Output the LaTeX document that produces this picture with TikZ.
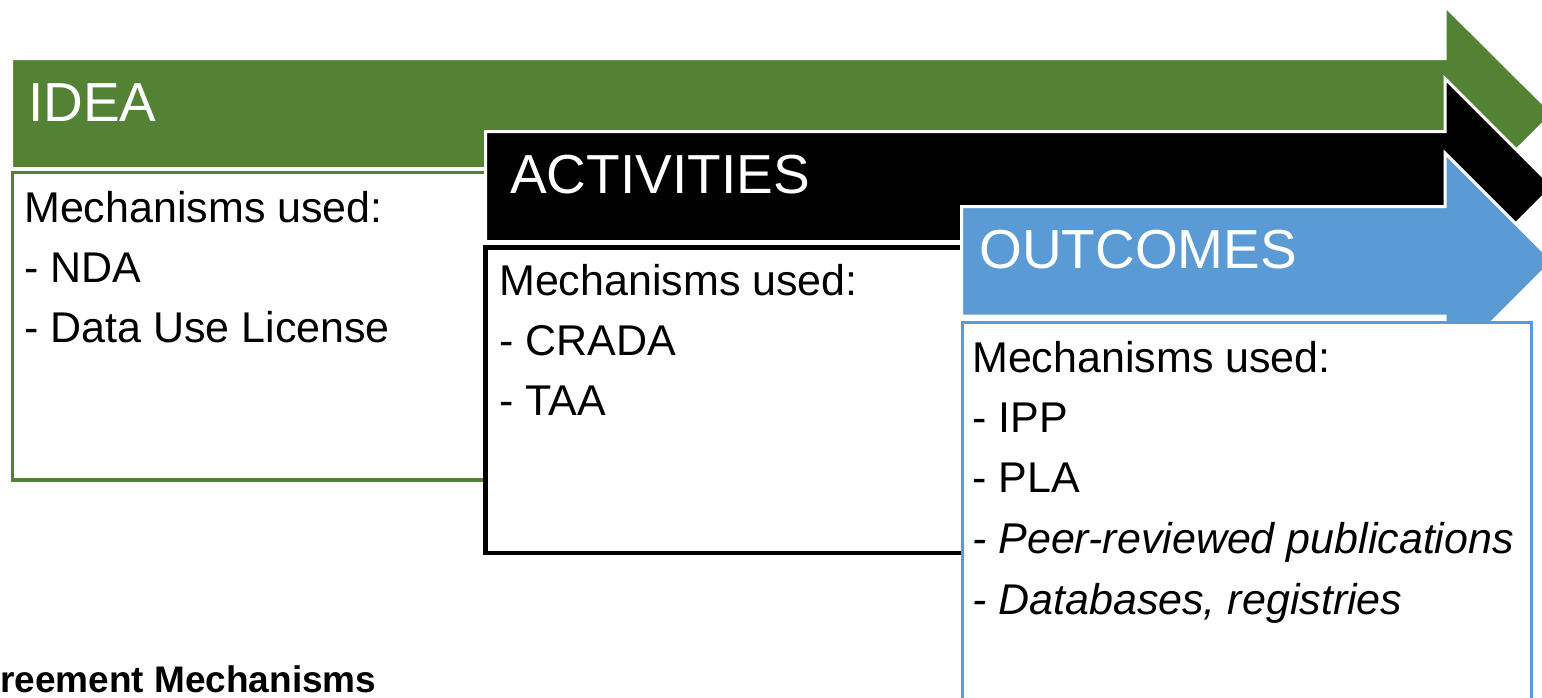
\documentclass[tikz,border=0pt]{standalone}
\usepackage{fontspec}
\setmainfont{Liberation Sans}
\usetikzlibrary{positioning}

\definecolor{ideagreen}{HTML}{548235}
\definecolor{outblue}{HTML}{5B9BD5}

\begin{document}
\begin{tikzpicture}[x=1pt, y=-1pt,
  head/.style={anchor=base west, inner sep=0pt, text=white,
               font=\fontsize{55}{60}\selectfont},
  mech/.style={anchor=base west, inner sep=0pt, text=black,
               font=\fontsize{43}{50}\selectfont},
  mechit/.style={mech, font=\fontsize{43}{50}\selectfont\itshape},
  band/.style={draw=white, line width=3pt, line join=miter},
  stagebox/.style={line width=3.5pt},
  caption/.style={anchor=base west, inner sep=0pt,
                  font=\fontsize{37}{40}\selectfont\bfseries},
]

  \useasboundingbox (0,0) rectangle (1542,697);

  \def\nx{1445}   % neck of every arrow head
  \def\tx{1553}   % tip of every arrow head
  \def\ga{24}     % text column, idea
  \def\gb{499}    % text column, activities
  \def\gc{972}    % text column, outcomes

  % Stage 1 — Idea

  \filldraw[fill=ideagreen, band]
    (11.5,58.5) -- (\nx,58.5) -- (\nx,6) -- (\tx,113.5)
    -- (\nx,221) -- (\nx,168.5) -- (11.5,168.5) -- cycle;
  % open on the right, the next stage hides that side
  \draw[stagebox, draw=ideagreen]
    (486,172.5) -- (12.5,172.5) -- (12.5,480) -- (486,480);

  \node[head] (ideatitle) at (28,121) {IDEA};
  \node[mech] (idea1) at (\ga,222) {Mechanisms used:};
  \node[mech] (idea2) at (\ga,282) {- NDA};
  \node[mech] (idea3) at (\ga,342) {- Data Use License};

  % Stage 2 — Activities

  \filldraw[fill=black, band]
    (485.5,131.5) -- (\nx,131.5) -- (\nx,78.5) -- (\tx,186.5)
    -- (\nx,294.5) -- (\nx,241.5) -- (485.5,241.5) -- cycle;
  \fill[white] (485.5,245) rectangle (962,553);
  \draw[stagebox, draw=black, line width=4.5pt]
    (962,247.5) -- (485.5,247.5) -- (485.5,553) -- (962,553);

  \node[head] (acttitle) at (510,193) {ACTIVITIES};
  \node[mech] (act1) at (\gb,295) {Mechanisms used:};
  \node[mech] (act2) at (\gb,355) {- CRADA};
  \node[mech] (act3) at (\gb,415) {- TAA};

  % Stage 3 — Outcomes

  \filldraw[fill=outblue, band]
    (961.5,206.5) -- (\nx,206.5) -- (\nx,153) -- (\tx,261)
    -- (\nx,369) -- (\nx,316) -- (961.5,316) -- cycle;
  \filldraw[stagebox, draw=outblue, fill=white]
    (962.5,322.5) rectangle (1531.5,712);

  \node[head] (outtitle) at (979,268) {OUTCOMES};
  \node[mech]   (out1) at (\gc,372) {Mechanisms used:};
  \node[mech]   (out2) at (\gc,432) {- IPP};
  \node[mech]   (out3) at (\gc,492) {- PLA};
  \node[mechit] (out4) at (\gc,553) {- Peer-reviewed publications};
  \node[mechit] (out5) at (\gc,614) {- Databases, registries};

  % Caption
  \node[caption] (agree) at (0,692) {reement Mechanisms};

\end{tikzpicture}
\end{document}
